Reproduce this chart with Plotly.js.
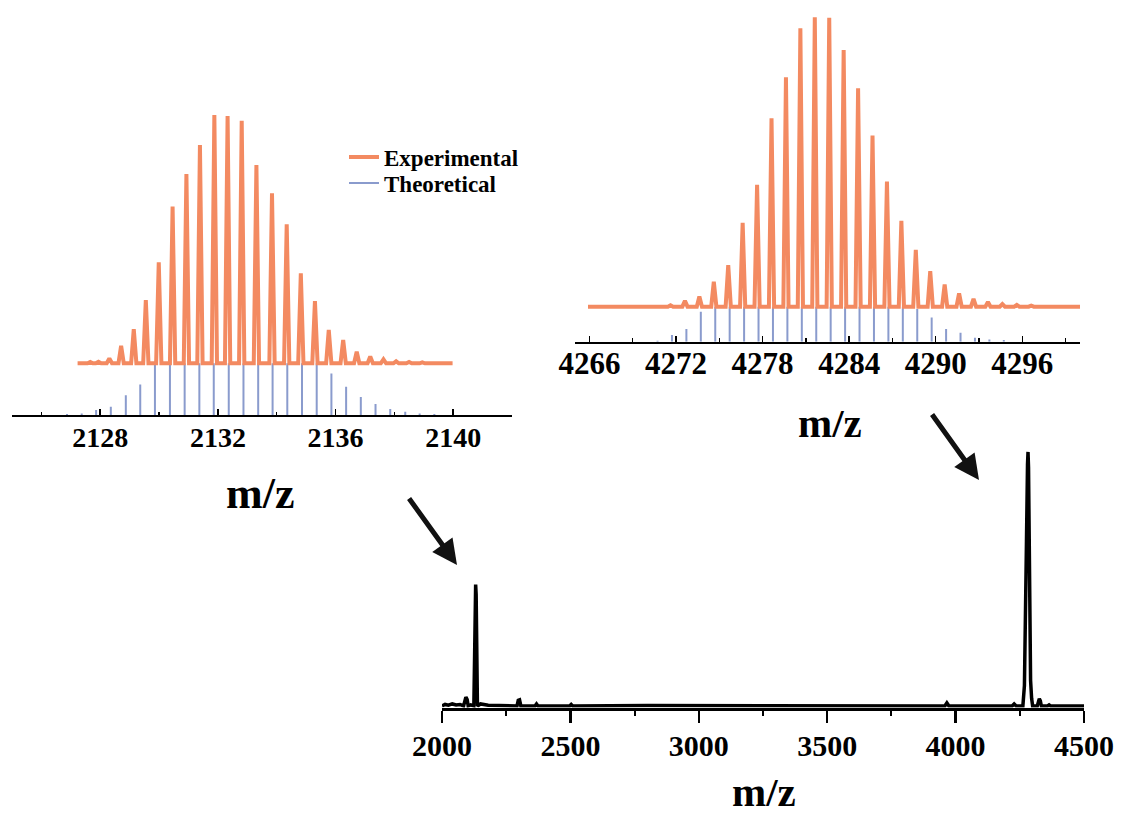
<!DOCTYPE html>
<html>
<head>
<meta charset="utf-8">
<script src="https://cdn.plot.ly/plotly-3.0.1.min.js"></script>
<style>html,body{margin:0;padding:0;background:#fff;}</style>
</head>
<body>
<div id="chart" style="width:1121px;height:818px;"></div>
<script>
// ---------------- DATA ----------------
// Main spectrum (m/z vs relative intensity, %)
const mainMz  = [2000, 2012, 2025, 2040, 2055, 2070, 2084, 2088, 2093, 2098, 2102, 2112,
                 2124, 2127, 2129, 2131, 2133, 2135, 2138, 2150, 2165, 2180,
                 2292, 2297, 2302, 2307, 2362, 2368, 2374, 2497, 2503, 2509,
                 2800, 3200, 3600, 3958, 3966, 3974, 4220, 4228, 4236,
                 4262, 4268, 4272, 4276, 4280, 4282, 4284, 4288, 4292, 4296, 4300,
                 4318, 4322, 4326, 4330, 4334, 4358, 4364, 4370, 4500];
const mainInt = [0, 0.6, 0.3, 0.8, 0.4, 0.6, 0, 2.5, 3.5, 2.5, 0, 0.4,
                 0, 20, 40, 47.8, 44, 25, 0, 0.8, 0.4, 0.3,
                 0, 2.2, 2.4, 0, 0, 0.8, 0, 0, 0.6, 0,
                 0.2, 0.2, 0.2, 0, 1.2, 0, 0, 0.8, 0,
                 0, 8, 30, 65, 95, 100, 94, 45, 10, 3, 0,
                 0, 2, 2.8, 2, 0, 0, 0.4, 0, 0];
const mainTicks = [2000, 2500, 3000, 3500, 4000, 4500];

// Left inset (~2132 cluster)
const leftExpSpan = [2127.23, 2139.98];
const leftExpMz  = [2127.66, 2127.94, 2128.31, 2128.71, 2129.14, 2129.55, 2129.99, 2130.46, 2130.93,
                    2131.39, 2131.88, 2132.33, 2132.81, 2133.31, 2133.84, 2134.34, 2134.82, 2135.30,
                    2135.77, 2136.26, 2136.72, 2137.18, 2137.63, 2138.06, 2138.50, 2138.95, 2139.40];
const leftExpInt = [0.5, 0.6, 2.0, 7.0, 13.8, 25.5, 40.7, 63.1, 76.2,
                    87.9, 100, 99.6, 97.7, 79.9, 68.5, 56.0, 36.2, 25.1,
                    13.4, 9.4, 4.7, 2.7, 1.6, 0.8, 0.5, 0.4, 0.4];
const leftTheoMz  = [2126.87, 2127.37, 2127.86, 2128.36, 2128.87, 2129.36, 2129.86, 2130.37, 2130.87,
                     2131.37, 2131.86, 2132.37, 2132.87, 2133.37, 2133.86, 2134.36, 2134.86, 2135.36,
                     2135.86, 2136.36, 2136.86, 2137.36, 2137.86, 2138.37, 2138.86, 2139.36];
const leftTheoInt = [0.6, 0.8, 2.8, 4.6, 11, 17, 31, 47, 67,
                     83, 94, 100, 99, 92, 78, 61, 47, 33,
                     23, 15.7, 10, 6.1, 3.3, 1.8, 0.9, 0.6];
const leftTicks = [2128, 2132, 2136, 2140];

// Right inset (~4282 cluster)
const rightExpSpan = [4265.9, 4300];
const rightExpMz  = [4270.62, 4271.62, 4272.62, 4273.62, 4274.62, 4275.62, 4276.62, 4277.62, 4278.62, 4279.62,
                     4280.62, 4281.62, 4282.62, 4283.62, 4284.62, 4285.62, 4286.62, 4287.62, 4288.62, 4289.62,
                     4290.62, 4291.62, 4292.62, 4293.62, 4294.62, 4295.62, 4296.62, 4297.62, 4298.62];
const rightExpInt = [0.3, 0.5, 2.0, 3.5, 8.6, 14.4, 29.0, 42.1, 65.1, 79.3,
                     96.2, 100, 99.8, 88.7, 75.5, 59.1, 43.2, 29.7, 19.6, 12.3,
                     7.7, 4.6, 2.7, 1.6, 0.9, 0.6, 0.35, 0.25, 0.2];
const rightTheoMz  = [4270.72, 4271.72, 4272.72, 4273.72, 4274.72, 4275.72, 4276.72, 4277.72, 4278.72, 4279.72,
                      4280.72, 4281.72, 4282.72, 4283.72, 4284.72, 4285.72, 4286.72, 4287.72, 4288.72, 4289.72,
                      4290.72, 4291.72, 4292.72, 4293.72, 4294.72];
const rightTheoInt = [0.7, 4.5, 8.5, 20, 35, 50, 66, 80, 91, 98,
                      100, 97, 90, 80, 68, 56, 44, 33, 21.8, 16.2,
                      8.5, 6, 2.7, 1.5, 1.1];
const rightTicks = [4266, 4272, 4278, 4284, 4290, 4296];

const seriesNames = ['Experimental', 'Theoretical'];
const axisTitle = 'm/z';

// ---------------- STYLE ----------------
const W = 1121, H = 818;
const ORANGE = '#F38A61', BLUE = '#8A9BCD';
const FONT = 'Liberation Serif, Times New Roman, serif';
const px = v => v / W;
const py = v => 1 - v / H;

function profile(span, mz, inten, hw) {
  const x = [span[0]], y = [0];
  mz.forEach((c, i) => { x.push(c - hw, c, c + hw); y.push(0, inten[i], 0); });
  x.push(span[1]); y.push(0);
  return {x, y};
}
function sticks(mz, inten) {
  const x = [], y = [];
  mz.forEach((c, i) => { x.push(c, c, null); y.push(0, inten[i], null); });
  return {x, y};
}

const lExp = profile(leftExpSpan, leftExpMz, leftExpInt, 0.09);
const lTheo = sticks(leftTheoMz, leftTheoInt);
const rExp = profile(rightExpSpan, rightExpMz, rightExpInt, 0.18);
const rTheo = sticks(rightTheoMz, rightTheoInt);

const traces = [
  {x: mainMz, y: mainInt, xaxis: 'x', yaxis: 'y', mode: 'lines',
   line: {color: '#000', width: 3.5}, showlegend: false, hoverinfo: 'skip'},
  {x: lExp.x, y: lExp.y, xaxis: 'x3', yaxis: 'y3', mode: 'lines', name: seriesNames[0],
   line: {color: ORANGE, width: 4}, showlegend: true, legend: 'legend', hoverinfo: 'skip'},
  {x: lTheo.x, y: lTheo.y, xaxis: 'x2', yaxis: 'y2', mode: 'lines', name: seriesNames[1],
   line: {color: BLUE, width: 2}, showlegend: true, legend: 'legend2', hoverinfo: 'skip'},
  {x: rTheo.x, y: rTheo.y, xaxis: 'x4', yaxis: 'y4', mode: 'lines', name: seriesNames[1],
   line: {color: BLUE, width: 2}, showlegend: false, hoverinfo: 'skip'},
  {x: rExp.x, y: rExp.y, xaxis: 'x5', yaxis: 'y5', mode: 'lines', name: seriesNames[0],
   line: {color: ORANGE, width: 4}, showlegend: false, hoverinfo: 'skip'}
];

const hiddenY = {visible: false, showgrid: false, zeroline: false, fixedrange: true};
const hiddenX = {visible: false, showgrid: false, zeroline: false, fixedrange: true};
function insetX(domain, anchor, range, tick0, dtick, minorDtick, fontSize, standoff) {
  return {domain, anchor, range, tick0, dtick, tickmode: 'linear',
    ticks: 'inside', ticklen: 6, tickwidth: 1.5, tickcolor: '#000',
    showline: true, linewidth: 2, linecolor: '#000', showgrid: false, zeroline: false,
    minor: {tick0, dtick: minorDtick, ticks: 'inside', ticklen: 3.5, tickwidth: 1.5, tickcolor: '#000', showgrid: false},
    tickfont: {family: FONT, size: fontSize, color: '#000', weight: 'bold'},
    ticklabelstandoff: standoff, fixedrange: true};
}
const legendBase = {xanchor: 'left', yanchor: 'middle', bgcolor: 'rgba(0,0,0,0)', borderwidth: 0,
  tracegroupgap: 0, font: {family: FONT, size: 23, color: '#000', weight: 'bold'}};

const layout = {
  width: W, height: H, autosize: false,
  margin: {l: 0, r: 0, t: 0, b: 0, pad: 0},
  paper_bgcolor: '#fff', plot_bgcolor: 'rgba(0,0,0,0)',
  showlegend: true,
  legend: Object.assign({x: px(344), y: py(157)}, legendBase),
  legend2: Object.assign({x: px(344), y: py(183)}, legendBase),
  xaxis: {domain: [px(442), px(1084)], anchor: 'y', range: [2000, 4500],
    tickmode: 'array', tickvals: mainTicks, ticktext: mainTicks.map(String),
    ticks: 'outside', ticklen: 12, tickwidth: 2.5, tickcolor: '#000',
    showline: true, linewidth: 3, linecolor: '#000', showgrid: false, zeroline: false,
    minor: {tick0: 2000, dtick: 250, ticks: 'outside', ticklen: 5, tickwidth: 2, tickcolor: '#000', showgrid: false},
    tickfont: {family: FONT, size: 30, color: '#000', weight: 'bold'},
    ticklabelstandoff: -3, fixedrange: true},
  yaxis: Object.assign({domain: [py(707.5), py(440)], anchor: 'x', range: [-0.6, 104.7]}, hiddenY),

  xaxis2: insetX([px(12), px(512)], 'y2', [2125, 2142], 2128, 4, 2, 28, -4),
  yaxis2: Object.assign({domain: [py(415), py(363.3)], anchor: 'x2', range: [0, 28.7]}, hiddenY),
  xaxis3: Object.assign({domain: [px(12), px(512)], anchor: 'y3', range: [2125, 2142]}, hiddenX),
  yaxis3: Object.assign({domain: [py(370), py(105)], anchor: 'x3', range: [-2.7, 104.03]}, hiddenY),

  xaxis4: insetX([px(575), px(1080)], 'y4', [4265, 4300], 4266, 6, 3, 31, -7),
  yaxis4: Object.assign({domain: [py(341.7), py(306.7)], anchor: 'x4', range: [0, 23.33]}, hiddenY),
  xaxis5: Object.assign({domain: [px(575), px(1080)], anchor: 'y5', range: [4265, 4300]}, hiddenX),
  yaxis5: Object.assign({domain: [py(313), py(8)], anchor: 'x5', range: [-2.18, 103.2]}, hiddenY),

  annotations: [
    {xref: 'paper', yref: 'paper', x: px(260), y: py(494), text: axisTitle, showarrow: false,
     xanchor: 'center', yanchor: 'middle', font: {family: FONT, size: 44, color: '#000', weight: 'bold'}},
    {xref: 'paper', yref: 'paper', x: px(830), y: py(423), text: axisTitle, showarrow: false,
     xanchor: 'center', yanchor: 'middle', font: {family: FONT, size: 41, color: '#000', weight: 'bold'}},
    {xref: 'paper', yref: 'paper', x: px(764), y: py(792), text: axisTitle, showarrow: false,
     xanchor: 'center', yanchor: 'middle', font: {family: FONT, size: 41, color: '#000', weight: 'bold'}},
    {xref: 'paper', yref: 'paper', x: px(457), y: py(565), text: '', showarrow: true,
     axref: 'pixel', ayref: 'pixel', ax: -49, ay: -68,
     arrowhead: 2, arrowsize: 1.0, arrowwidth: 5, arrowcolor: '#111', standoff: 0},
    {xref: 'paper', yref: 'paper', x: px(979), y: py(480), text: '', showarrow: true,
     axref: 'pixel', ayref: 'pixel', ax: -48, ay: -67,
     arrowhead: 2, arrowsize: 1.0, arrowwidth: 5, arrowcolor: '#111', standoff: 0}
  ]
};

Plotly.newPlot('chart', traces, layout, {staticPlot: true, displayModeBar: false});
</script>
</body>
</html>
